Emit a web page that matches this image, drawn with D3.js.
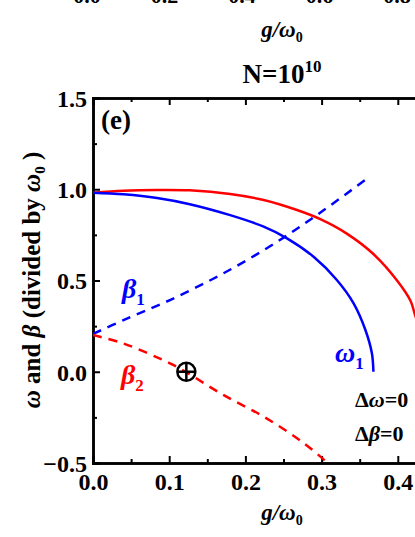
<!DOCTYPE html>
<html><head><meta charset="utf-8">
<script src="https://cdn.jsdelivr.net/npm/d3@7"></script>
<style>
html,body{margin:0;padding:0;background:#fff;overflow:hidden;}
svg{display:block;}
svg text{font-family:"Liberation Serif","Times New Roman","DejaVu Serif",serif !important;font-weight:bold;}
</style></head>
<body>
<script>
// ---- data ----
const gOmega1 = [0, 0.04, 0.084, 0.127, 0.18, 0.224, 0.2546, 0.2895, 0.32, 0.342, 0.3575, 0.366, 0.368];
const omega1  = [0.981, 0.972, 0.952, 0.918, 0.858, 0.795, 0.731, 0.630, 0.503, 0.375, 0.229, 0.101, 0.0];
const gOmega2 = [0, 0.04, 0.084, 0.127, 0.18, 0.224, 0.2677, 0.2983, 0.333, 0.368, 0.399, 0.4165, 0.422, 0.432, 0.44];
const omega2  = [0.981, 0.992, 0.996, 0.994, 0.974, 0.941, 0.886, 0.836, 0.757, 0.645, 0.50, 0.39, 0.32, 0.18, 0.0];
const gBeta1  = [0, 0.04, 0.101, 0.171, 0.242, 0.303, 0.36];
const beta1   = [0.207, 0.283, 0.393, 0.539, 0.713, 0.886, 1.06];
const gBeta2  = [0, 0.04, 0.101, 0.1225, 0.171, 0.224, 0.277, 0.308];
const beta2   = [0.201, 0.155, 0.046, -0.003, -0.127, -0.246, -0.392, -0.5];
const marker  = {g: 0.1225, v: 0.0};
const xTicks  = [0, 0.1, 0.2, 0.3, 0.4, 0.5];
const yTicks  = [-0.5, 0, 0.5, 1.0, 1.5];
const prevPanelTicks = ["0.0", "0.2", "0.4", "0.6", "0.8"];

const FONT = '"Liberation Serif","Times New Roman","DejaVu Serif",serif';
const W = 415, H = 537;
const svg = d3.select("body").append("svg").attr("width", W).attr("height", H)
  .attr("font-family", FONT).attr("font-weight", "bold");

const x = d3.scaleLinear().domain([0, 0.5]).range([93, 474]);
const y = d3.scaleLinear().domain([-0.5, 1.5]).range([463, 98]);

// previous panel remnants (cut-off tick labels and x label)
const xPrev = d3.scalePoint().domain(prevPanelTicks).range([87, 397]);
svg.append("g").selectAll("text").data(prevPanelTicks).join("text")
  .attr("x", d => xPrev(d)).attr("y", 2.5).attr("text-anchor", "middle")
  .attr("font-size", 22).text(d => d);

function gLabel(cx, by) {
  const t = svg.append("text").attr("x", cx).attr("y", by).attr("text-anchor", "middle")
    .attr("font-size", 23).attr("font-style", "italic");
  t.append("tspan").text("g/ω");
  t.append("tspan").attr("font-size", 14).attr("font-style", "normal").attr("dy", 5).text("0");
}
gLabel(282, 37);

// title
const title = svg.append("text").attr("x", 282).attr("y", 83).attr("text-anchor", "middle").attr("font-size", 27);
title.append("tspan").text("N=10");
title.append("tspan").attr("font-size", 17).attr("dy", -11).text("10");

// axes
svg.append("clipPath").attr("id", "plotclip").append("rect")
  .attr("x", x(0)).attr("y", y(1.5)).attr("width", x(0.5) - x(0)).attr("height", y(-0.5) - y(1.5));

svg.append("g").attr("transform", `translate(0,${y(-0.5)})`)
  .call(d3.axisBottom(x).tickValues(xTicks).tickSize(-7).tickPadding(10).tickFormat(d3.format(".1f")));
svg.append("g").attr("transform", `translate(0,${y(1.5)})`)
  .call(d3.axisTop(x).tickValues(xTicks).tickSize(-7).tickFormat(""));
const axL = svg.append("g").attr("transform", `translate(${x(0)},0)`)
  .call(d3.axisLeft(y).tickValues(yTicks).tickSize(-7).tickPadding(6).tickFormat(d3.format(".1f")));
const xMinor = [0.05, 0.15, 0.25, 0.35, 0.45];
const yMinor = [-0.25, 0.25, 0.75, 1.25];
svg.append("g").attr("transform", `translate(0,${y(-0.5)})`)
  .call(d3.axisBottom(x).tickValues(xMinor).tickSize(-4).tickFormat(""));
svg.append("g").attr("transform", `translate(0,${y(1.5)})`)
  .call(d3.axisTop(x).tickValues(xMinor).tickSize(-4).tickFormat(""));
svg.append("g").attr("transform", `translate(${x(0)},0)`)
  .call(d3.axisLeft(y).tickValues(yMinor).tickSize(-4).tickFormat(""));

svg.selectAll("g").attr("font-family", FONT);
svg.selectAll(".domain").attr("stroke", "#000").attr("stroke-width", 2.5);
svg.selectAll(".tick line").attr("stroke", "#000").attr("stroke-width", 2);
svg.selectAll(".tick text").attr("font-size", 24).attr("fill", "#000");
axL.selectAll(".tick text").attr("dy", "0.35em");

// y label
const yl = svg.append("text").attr("transform", "translate(40,280) rotate(-90)")
  .attr("text-anchor", "middle").attr("font-size", 25);
yl.append("tspan").attr("font-style", "italic").text("ω");
yl.append("tspan").text(" and ");
yl.append("tspan").attr("font-style", "italic").text("β");
yl.append("tspan").text(" (divided by ");
yl.append("tspan").attr("font-style", "italic").text("ω");
yl.append("tspan").attr("font-size", 15).attr("dy", 5).text("0");
yl.append("tspan").attr("dy", -5).text(" )");

// x label
gLabel(282, 520);

// panel label
svg.append("text").attr("x", 101).attr("y", 129).attr("font-size", 27).text("(e)");

// curves
const line = d3.line().curve(d3.curveCatmullRom.alpha(0.5));
const plot = svg.append("g").attr("clip-path", "url(#plotclip)");
function draw(gs, vs, color, dashed) {
  plot.append("path").attr("d", line(gs.map((g, i) => [x(g), y(vs[i])])))
    .attr("fill", "none").attr("stroke", color).attr("stroke-width", 2.5)
    .attr("stroke-dasharray", dashed ? "9,7" : null);
}
draw(gBeta1, beta1, "#0000ff", true);
draw(gBeta2, beta2, "#ff0000", true);
draw(gOmega2, omega2, "#ff0000", false);
draw(gOmega1, omega1, "#0000ff", false);

// marker
const mk = svg.append("g").attr("transform", `translate(${x(marker.g)},${y(marker.v)})`)
  .attr("stroke", "#000").attr("stroke-width", 2.5).attr("fill", "none");
mk.append("circle").attr("r", 9);
mk.append("line").attr("x1", -9).attr("x2", 9);
mk.append("line").attr("y1", -9).attr("y2", 9);

// curve labels
function sub(xp, yp, sym, idx, color) {
  const t = svg.append("text").attr("x", xp).attr("y", yp).attr("fill", color).attr("font-size", 28);
  t.append("tspan").attr("font-style", "italic").text(sym);
  t.append("tspan").attr("font-size", 17).attr("dy", 7).text(idx);
}
sub(122, 298, "β", "1", "#0000ff");
sub(121, 384, "β", "2", "#ff0000");
sub(335, 362, "ω", "1", "#0000ff");

// right-side annotations
const a1 = svg.append("text").attr("x", 355).attr("y", 407).attr("font-size", 22);
a1.append("tspan").text("Δ"); a1.append("tspan").attr("font-style", "italic").text("ω"); a1.append("tspan").text("=0");
const a2 = svg.append("text").attr("x", 355).attr("y", 441).attr("font-size", 22);
a2.append("tspan").text("Δ"); a2.append("tspan").attr("font-style", "italic").text("β"); a2.append("tspan").text("=0");
</script>
</body></html>
